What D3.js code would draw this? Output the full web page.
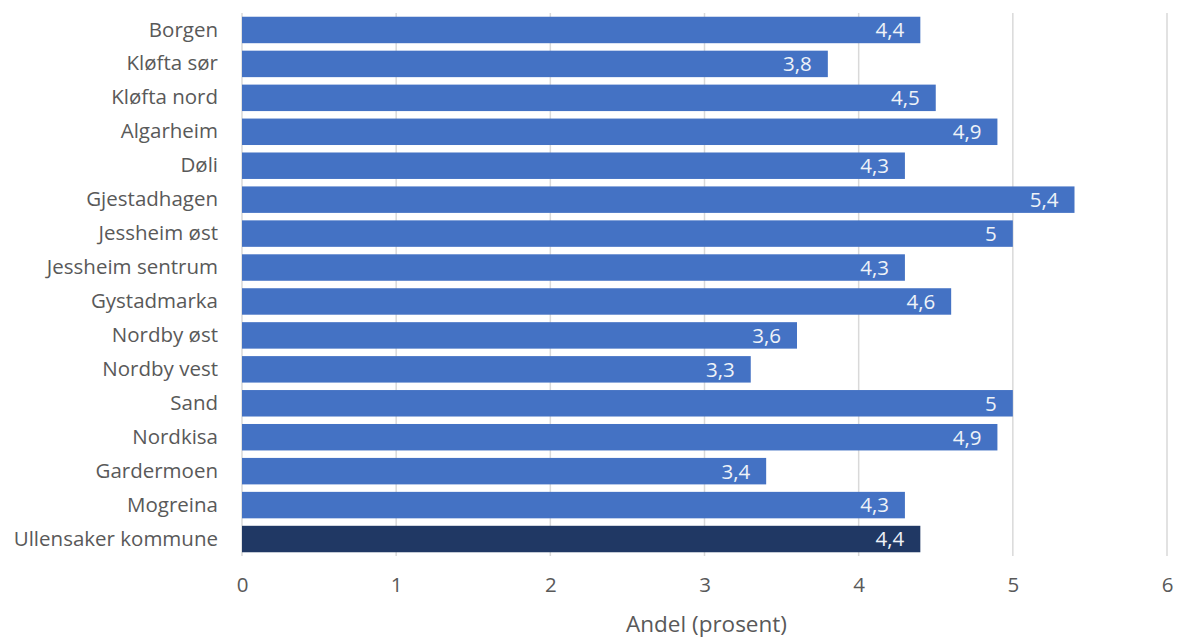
<!DOCTYPE html>
<html><head><meta charset="utf-8">
<script src="https://cdn.jsdelivr.net/npm/d3@7"></script>
<style>html,body{margin:0;padding:0;background:#fff;}</style>
</head><body>
<svg id="chart" width="1183" height="638"></svg>
<script>
const categories = ["Borgen","Kløfta sør","Kløfta nord","Algarheim","Døli","Gjestadhagen","Jessheim øst","Jessheim sentrum","Gystadmarka","Nordby øst","Nordby vest","Sand","Nordkisa","Gardermoen","Mogreina","Ullensaker kommune"];
const values = [4.4,3.8,4.5,4.9,4.3,5.4,5,4.3,4.6,3.6,3.3,5,4.9,3.4,4.3,4.4];
const xTicks = [0,1,2,3,4,5,6];
const xTitle = "Andel (prosent)";

(function(){
const svg = d3.select("#chart");
const font = "'Open Sans', sans-serif";
const pLeft = 242, pRight = 1167, pTop = 13, pBottom = 556;
const x = d3.scaleLinear().domain([0,6]).range([pLeft,pRight]);
const y = d3.scaleBand().domain(categories).range([pTop,pBottom]).paddingInner(0.22).paddingOuter(0.11);

svg.append("g").selectAll("line").data(xTicks).join("line")
  .attr("x1",d=>x(d)).attr("x2",d=>x(d)).attr("y1",pTop).attr("y2",pBottom)
  .attr("stroke","#d9d9d9").attr("stroke-width",1.5);

svg.append("g").selectAll("rect").data(categories).join("rect")
  .attr("x",x(0)).attr("y",d=>y(d)).attr("height",y.bandwidth())
  .attr("width",(d,i)=>x(values[i])-x(0))
  .attr("fill",(d,i)=>i===categories.length-1?"#203864":"#4472c4");

svg.append("g").selectAll("text").data(categories).join("text")
  .attr("x",(d,i)=>x(values[i])-16).attr("y",d=>y(d)+y.bandwidth()/2)
  .attr("dy","0.36em").attr("text-anchor","end")
  .attr("font-family",font).attr("font-size",20.5).attr("fill","#eef2f8")
  .text((d,i)=>String(values[i]).replace(".",","));

const ya = d3.axisLeft(y).tickSize(0).tickPadding(24);
const gy = svg.append("g").attr("transform",`translate(${pLeft},0)`).call(ya);
gy.select(".domain").remove();
gy.selectAll("text").attr("font-family",font).attr("font-size",20.5).attr("fill","#595959");

const xa = d3.axisBottom(x).tickValues(xTicks).tickSize(0).tickPadding(21).tickFormat(d=>d);
const gx = svg.append("g").attr("transform",`translate(0,${pBottom})`).call(xa);
gx.select(".domain").remove();
gx.selectAll("text").attr("font-family",font).attr("font-size",20.5).attr("fill","#595959");

svg.append("text").attr("x",(pLeft+pRight)/2+2).attr("y",632).attr("text-anchor","middle")
  .attr("font-family",font).attr("font-size",22.5).attr("fill","#595959").text(xTitle);
})();
</script>
</body></html>
